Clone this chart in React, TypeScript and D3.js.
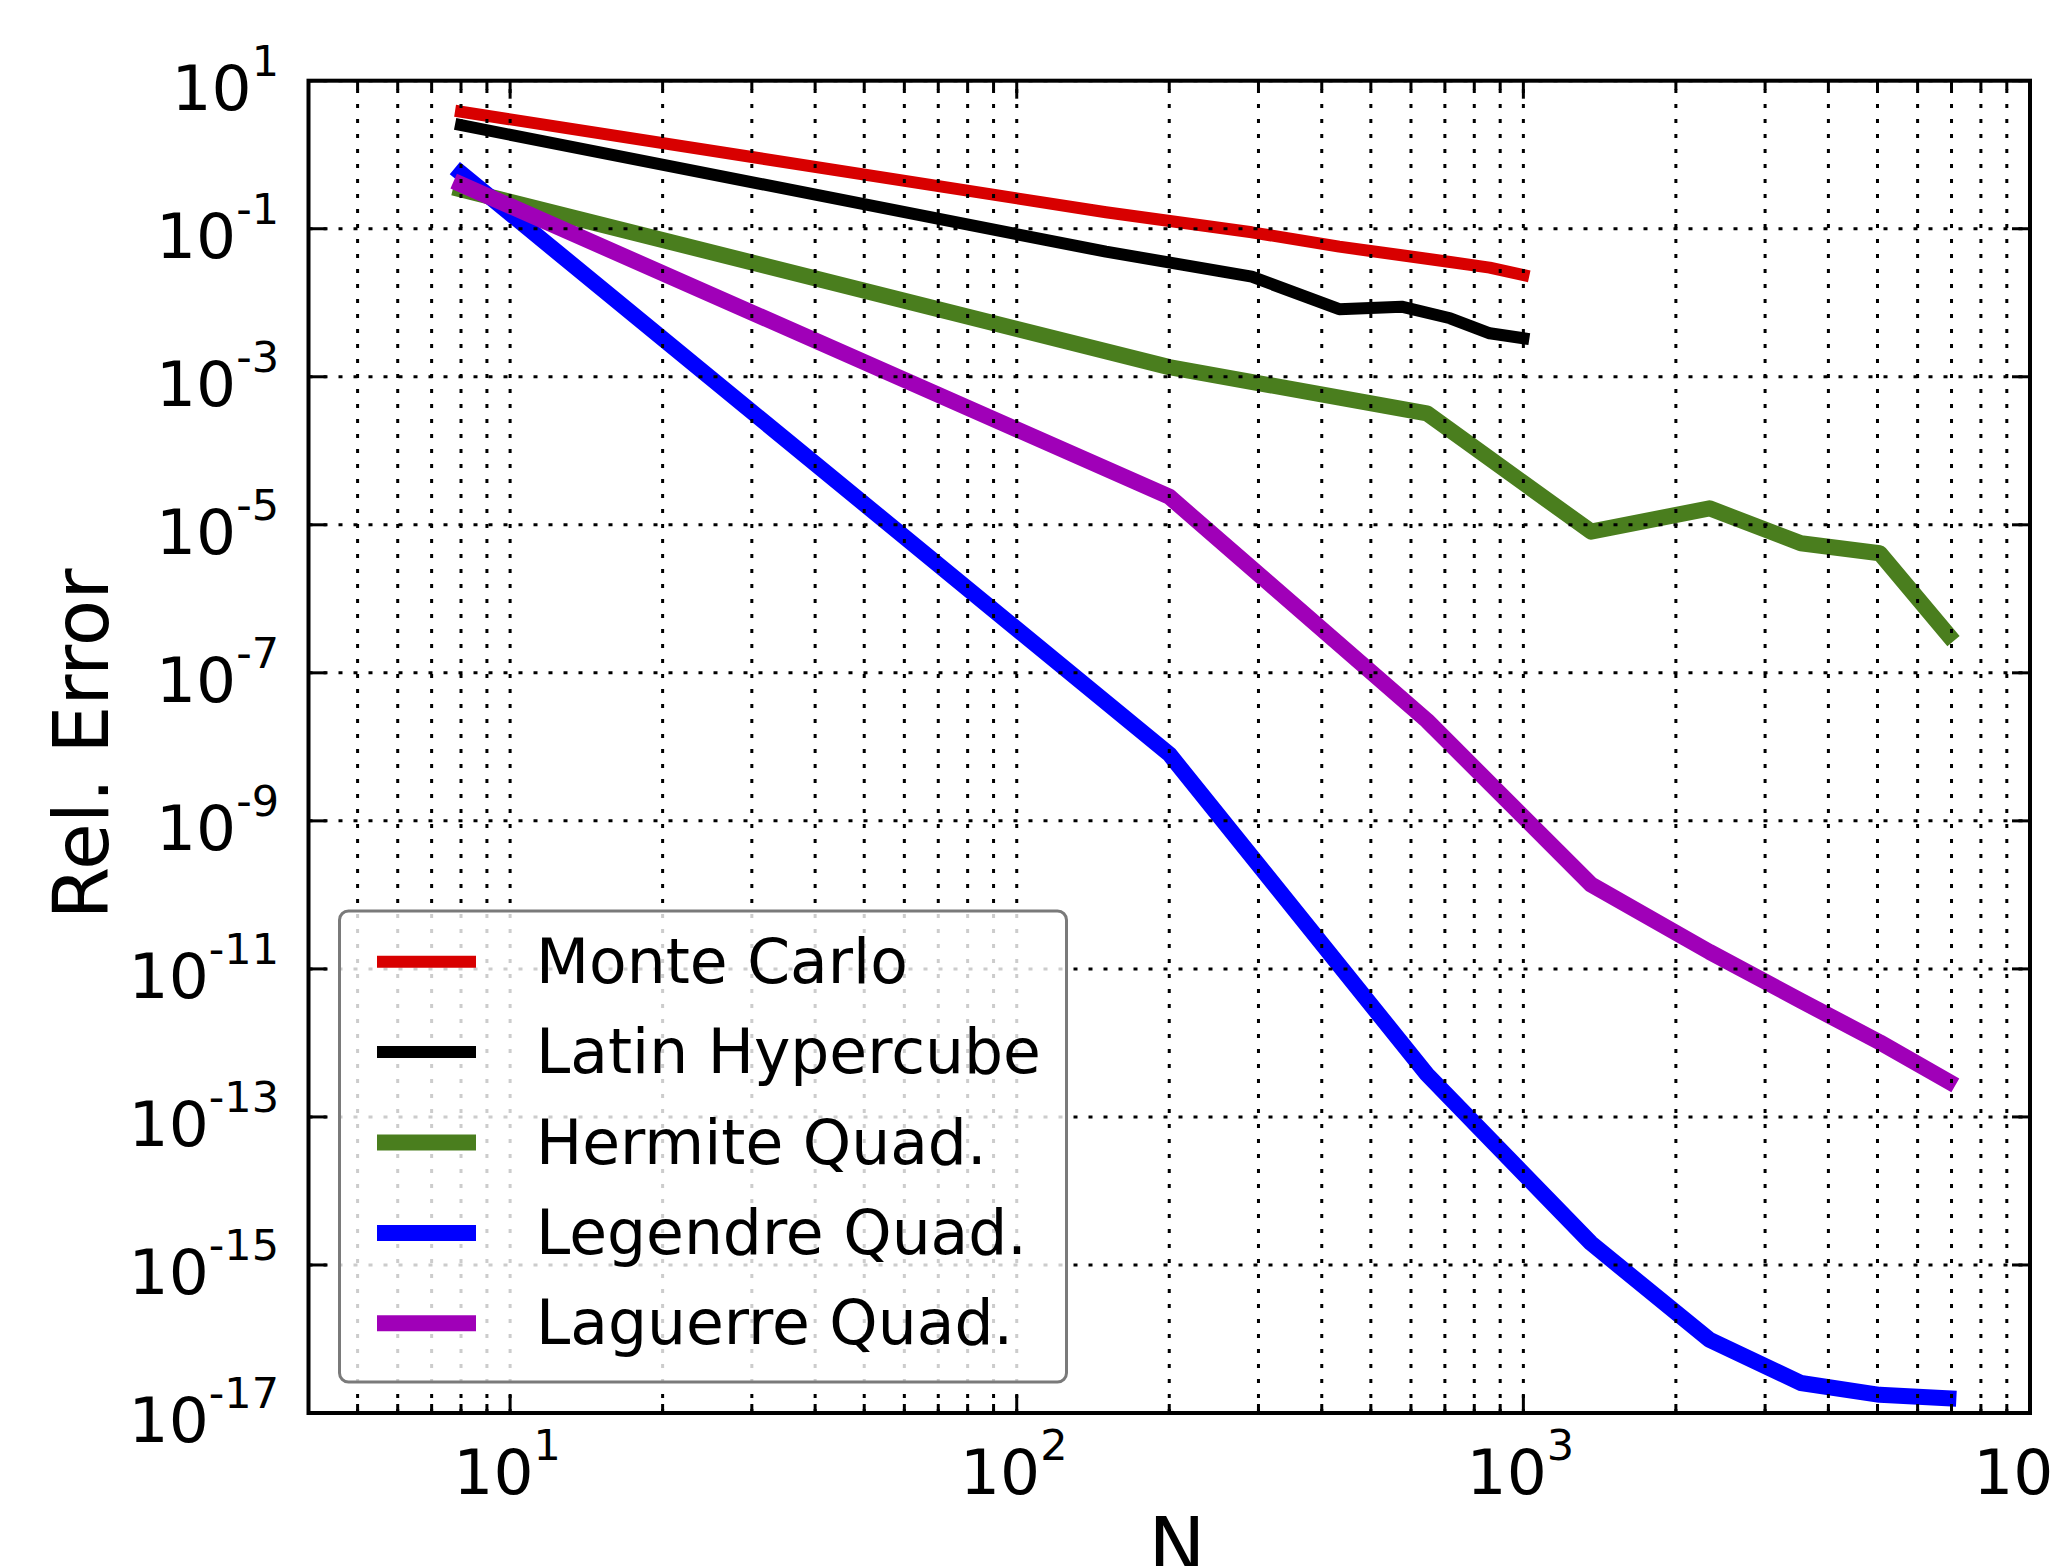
import React from "react";
import * as d3 from "d3";

const mcN = [8, 150, 291, 433, 575, 717, 858, 1000];
const mcErr = [3.81, 0.167, 0.0895, 0.0573, 0.0438, 0.0356, 0.0298, 0.0237];
const lhsErr = [2.51, 0.049, 0.0225, 0.00817, 0.00885, 0.00617, 0.00387, 0.00331];

const quadN = [8, 200, 645, 1360, 2330, 3530, 5050, 6900];
const hermiteErr = [0.339, 1.35e-3, 3.21e-4, 8.09e-6, 1.67e-5, 5.64e-6, 4.13e-6, 3.25e-7];
const legendreErr = [0.562, 7.98e-9, 3.77e-13, 1.97e-15, 9.75e-17, 2.54e-17, 1.76e-17, 1.58e-17];
const laguerreErr = [0.398, 2.4e-5, 2.27e-8, 1.38e-10, 1.7e-11, 3.72e-12, 1.02e-12, 3.02e-13];

const seriesNames = ["Monte Carlo", "Latin Hypercube", "Hermite Quad.", "Legendre Quad.", "Laguerre Quad."];
const seriesColors = ["#d80000", "#000000", "#4a7e1e", "#0000ff", "#a000b8"];
const seriesWidths = [12, 12, 16, 16, 16];

const xTickExps = [1, 2, 3, 4];
const yTickExps = [1, -1, -3, -5, -7, -9, -11, -13, -15, -17];

const FONT = "'DejaVu Sans', sans-serif";

export default function App() {
  const W = 2050, H = 1566;
  const L = 308.5, R = 2030, T = 80.7, B = 1413;
  const x = d3.scaleLog().domain([4, 10000]).range([L, R]);
  const y = d3.scaleLog().domain([1e-17, 10]).range([B, T]);

  const series = [
    { n: mcN, e: mcErr },
    { n: mcN, e: lhsErr },
    { n: quadN, e: hermiteErr },
    { n: quadN, e: legendreErr },
    { n: quadN, e: laguerreErr },
  ];
  const line = d3.line<[number, number]>().x((d) => x(d[0])).y((d) => y(d[1]));

  const xGrid: number[] = [];
  for (let p = 0; p <= 4; p++) {
    for (let m = 1; m <= 9; m++) {
      const v = m * Math.pow(10, p);
      if (v >= 4 && v <= 10000) xGrid.push(v);
    }
  }
  const xMajor = xTickExps.map((e) => Math.pow(10, e));
  const yMajor = yTickExps.map((e) => Math.pow(10, e));

  const dash = "4 11";
  const legendRow0 = 961.7, legendStep = 90.4;

  return (
    <svg width={W} height={H} style={{ position: "absolute", left: 0, top: 0, background: "#fff" }}>
      <rect x={0} y={0} width={W} height={H} fill="#fff" />
      {series.map((s, i) => (
        <path
          key={i}
          d={line(s.n.map((v, j) => [v, s.e[j]] as [number, number])) || ""}
          fill="none"
          stroke={seriesColors[i]}
          strokeWidth={seriesWidths[i]}
          strokeLinejoin="round"
          strokeLinecap="square"
        />
      ))}
      {xGrid.map((v, i) => (
        <line key={"gx" + i} x1={x(v)} x2={x(v)} y1={B} y2={T} stroke="#000" strokeWidth={3} strokeDasharray={dash} />
      ))}
      {yMajor.map((v, i) => (
        <line key={"gy" + i} x1={L} x2={R} y1={y(v)} y2={y(v)} stroke="#000" strokeWidth={3} strokeDasharray={dash} />
      ))}
      {xGrid.map((v, i) => {
        const major = xMajor.includes(v);
        const len = major ? 18 : 9;
        return (
          <g key={"tx" + i}>
            <line x1={x(v)} x2={x(v)} y1={B} y2={B - len} stroke="#000" strokeWidth={3} />
            <line x1={x(v)} x2={x(v)} y1={T} y2={T + len} stroke="#000" strokeWidth={3} />
          </g>
        );
      })}
      {yMajor.map((v, i) => (
        <g key={"ty" + i}>
          <line x1={L} x2={L + 18} y1={y(v)} y2={y(v)} stroke="#000" strokeWidth={3} />
          <line x1={R} x2={R - 18} y1={y(v)} y2={y(v)} stroke="#000" strokeWidth={3} />
        </g>
      ))}
      <rect x={L} y={T} width={R - L} height={B - T} fill="none" stroke="#000" strokeWidth={4} />
      {xTickExps.map((e, i) => (
        <text key={"xl" + i} x={x(Math.pow(10, e)) - 3} y={1494} textAnchor="middle" fontFamily={FONT} fontSize={63} fill="#000">
          10<tspan fontSize={43} dy={-34}>{String(e)}</tspan>
        </text>
      ))}
      {yTickExps.map((e, i) => (
        <text key={"yl" + i} x={279} y={y(Math.pow(10, e)) + 29} textAnchor="end" fontFamily={FONT} fontSize={63} fill="#000">
          10<tspan fontSize={43} dy={-34}>{e < 0 ? "-" + String(-e) : String(e)}</tspan>
        </text>
      ))}
      <text x={1177} y={1572} textAnchor="middle" fontFamily={FONT} fontSize={76} fill="#000">N</text>
      <text transform={`translate(108, 744) rotate(-90)`} textAnchor="middle" fontFamily={FONT} fontSize={76} fill="#000">Rel. Error</text>
      <rect x={339.5} y={911} width={727} height={471} rx={9} fill="#fff" fillOpacity={0.8} stroke="#7a7a7a" strokeWidth={3} />
      {seriesNames.map((name, i) => {
        const ry = legendRow0 + i * legendStep;
        return (
          <g key={"lg" + i}>
            <line x1={377} x2={476} y1={ry} y2={ry} stroke={seriesColors[i]} strokeWidth={seriesWidths[i]} />
            <text x={536} y={ry + 21} fontFamily={FONT} fontSize={61.5} fill="#000">{name}</text>
          </g>
        );
      })}
    </svg>
  );
}
